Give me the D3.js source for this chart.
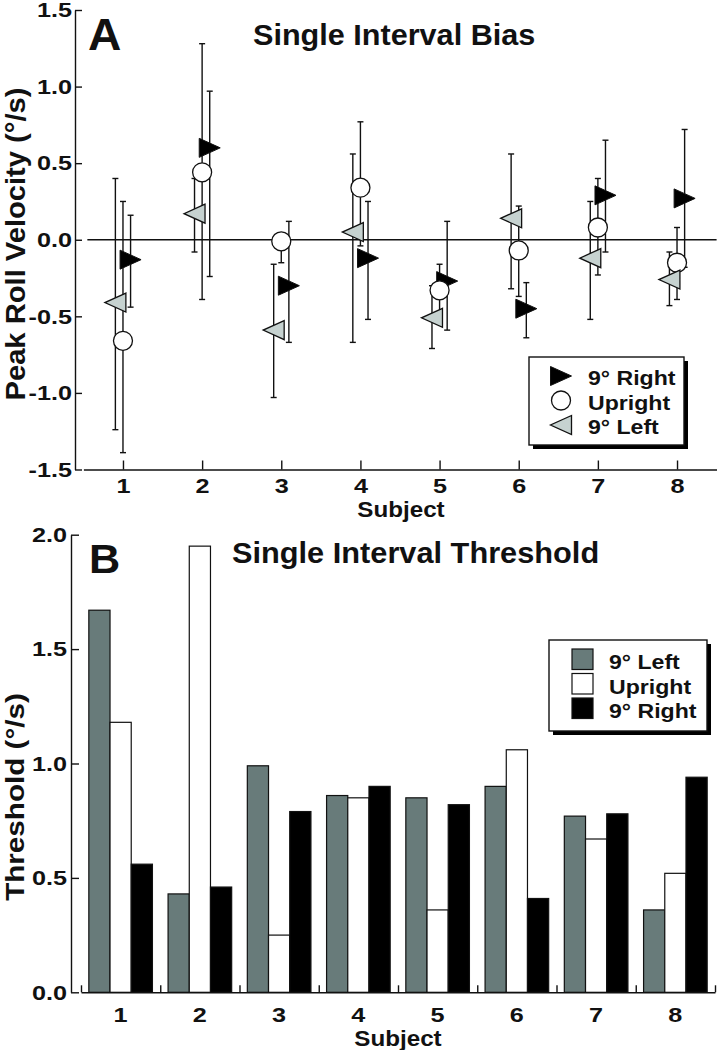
<!DOCTYPE html>
<html><head><meta charset="utf-8">
<script src="https://cdn.jsdelivr.net/npm/d3@7"></script>
<style>
body{margin:0;background:#fff;}
svg{display:block;font-family:"Liberation Sans",Arial,Helvetica,sans-serif;font-weight:bold;}
</style></head>
<body><svg id="c" width="717" height="1050"></svg>
<script>
// ---------- DATA ----------
const subjects = [1, 2, 3, 4, 5, 6, 7, 8];
const biasTicks = [-1.5, -1.0, -0.5, 0.0, 0.5, 1.0, 1.5];
const thrTicks = [0.0, 0.5, 1.0, 1.5, 2.0];

// Panel A: bias (deg/s) with error bar ends
const biasLeft     = [-0.41, 0.17, -0.59, 0.05, -0.51, 0.14, -0.12, -0.26];
const biasLeftLo   = [-1.24, -0.08, -1.03, -0.67, -0.71, -0.32, -0.52, -0.43];
const biasLeftHi   = [0.40, 0.40, -0.16, 0.56, -0.30, 0.56, 0.25, -0.08];
const biasUpright   = [-0.66, 0.44, -0.01, 0.34, -0.33, -0.07, 0.08, -0.15];
const biasUprightLo = [-1.39, -0.39, -0.15, -0.04, -0.51, -0.37, -0.23, -0.39];
const biasUprightHi = [0.25, 1.28, 0.04, 0.77, -0.16, 0.22, 0.40, 0.08];
const biasRight    = [-0.13, 0.60, -0.30, -0.12, -0.27, -0.45, 0.29, 0.27];
const biasRightLo  = [-0.44, -0.24, -0.67, -0.52, -0.59, -0.64, -0.08, -0.18];
const biasRightHi  = [0.16, 0.97, 0.12, 0.25, 0.12, -0.28, 0.65, 0.72];

// Panel B: thresholds (deg/s)
const thrLeft    = [1.67, 0.43, 0.99, 0.86, 0.85, 0.90, 0.77, 0.36];
const thrUpright = [1.18, 1.95, 0.25, 0.85, 0.36, 1.06, 0.67, 0.52];
const thrRight   = [0.56, 0.46, 0.79, 0.90, 0.82, 0.41, 0.78, 0.94];

const seriesNames = ["9° Left", "Upright", "9° Right"];

// ---------- STYLE ----------
const GRAY_BAR = "#687b7a";
const TRI_FILL = "#c6d2d0";
const INK = "#111";

const svg = d3.select("#c");

function label(g, x, y, s, size, sx, anchor, rot) {
  return g.append("text")
    .attr("transform", `translate(${x},${y})` + (rot ? ` rotate(${rot})` : "") + ` scale(${sx},1)`)
    .attr("font-size", size).attr("text-anchor", anchor || "start")
    .attr("fill", INK).text(s);
}
function styleAxis(g, size, sx) {
  g.select(".domain").attr("stroke", INK).attr("stroke-width", 1.4);
  g.selectAll(".tick line").attr("stroke", INK).attr("stroke-width", 1.4);
  g.selectAll(".tick text").attr("font-size", size).attr("fill", INK)
    .attr("font-family", "Liberation Sans, Arial, sans-serif").attr("font-weight", "bold")
    .each(function () {
      const t = d3.select(this);
      const x = +t.attr("x") || 0;
      t.attr("x", x / sx).attr("transform", `scale(${sx},1)`);
    });
}

// ================= PANEL A =================
const xA = d3.scaleLinear().domain([0.5, 8.5]).range([83.4, 716.6]);
const yA = d3.scaleLinear().domain([-1.5, 1.5]).range([469.5, 10]);
const off = 0.096; // horizontal offset of series (subject units)

const gA = svg.append("g");
gA.append("g").attr("transform", "translate(75,0)")
  .call(d3.axisLeft(yA).tickValues(biasTicks).tickSize(-7).tickSizeOuter(0).tickPadding(3)
    .tickFormat(d => d.toFixed(1)))
  .call(g => styleAxis(g, 21, 1.2));
gA.append("g").attr("transform", `translate(0,${yA(-1.5)})`)
  .call(d3.axisBottom(xA).tickValues(subjects).tickSize(-9).tickSizeOuter(0).tickPadding(9)
    .tickFormat(d3.format("d")))
  .call(g => styleAxis(g, 21, 1.2));

// zero line
gA.append("line").attr("x1", xA(0.55)).attr("x2", xA(8.5))
  .attr("y1", yA(0)).attr("y2", yA(0)).attr("stroke", INK).attr("stroke-width", 1.3);

const biasSeries = [
  {name: seriesNames[0], v: biasLeft, lo: biasLeftLo, hi: biasLeftHi, dx: -off, shape: "left"},
  {name: seriesNames[1], v: biasUpright, lo: biasUprightLo, hi: biasUprightHi, dx: 0, shape: "circle"},
  {name: seriesNames[2], v: biasRight, lo: biasRightLo, hi: biasRightHi, dx: off, shape: "right"}
];

// error bars
biasSeries.forEach(s => {
  const g = gA.append("g").attr("stroke", INK).attr("stroke-width", 1.4);
  subjects.forEach((sub, i) => {
    const x = xA(sub + s.dx);
    g.append("line").attr("x1", x).attr("x2", x).attr("y1", yA(s.lo[i])).attr("y2", yA(s.hi[i]));
    [s.lo[i], s.hi[i]].forEach(v => g.append("line")
      .attr("x1", x - 3).attr("x2", x + 3).attr("y1", yA(v)).attr("y2", yA(v)));
  });
});

function marker(g, shape, x, y) {
  if (shape === "circle") {
    g.append("circle").attr("cx", x).attr("cy", y).attr("r", 9.5)
      .attr("fill", "#fff").attr("stroke", INK).attr("stroke-width", 1.3);
  } else if (shape === "right") {
    g.append("path").attr("d", `M${x - 10.5},${y - 9.5}L${x + 10.5},${y}L${x - 10.5},${y + 9.5}Z`)
      .attr("fill", "#000").attr("stroke", INK).attr("stroke-width", 1);
  } else {
    g.append("path").attr("d", `M${x + 10.5},${y - 9.5}L${x - 10.5},${y}L${x + 10.5},${y + 9.5}Z`)
      .attr("fill", TRI_FILL).attr("stroke", INK).attr("stroke-width", 1.3);
  }
}
// markers: right, upright, left order
[biasSeries[2], biasSeries[1], biasSeries[0]].forEach(s => {
  const g = gA.append("g");
  subjects.forEach((sub, i) => marker(g, s.shape, xA(sub + s.dx), yA(s.v[i])));
});

label(gA, 88, 50, "A", 44, 1.05, "start");
label(gA, 253, 45, "Single Interval Bias", 30, 1.02, "start");
label(gA, 401, 517, "Subject", 22, 1.1, "middle");
label(gA, 25, 244, "Peak Roll Velocity (°/s)", 27, 1.08, "middle", -90);

// legend A
{
  const lg = gA.append("g");
  lg.append("rect").attr("x", 533).attr("y", 361).attr("width", 155).attr("height", 88).attr("fill", "#000");
  lg.append("rect").attr("x", 529).attr("y", 357).attr("width", 155).attr("height", 88)
    .attr("fill", "#fff").attr("stroke", INK).attr("stroke-width", 1.4);
  const items = [biasSeries[2], biasSeries[1], biasSeries[0]];
  items.forEach((s, k) => {
    const cy = 376 + k * 24.5;
    marker(lg, s.shape, 561, cy);
    label(lg, 588, cy + 9, s.name, 21, 1.1, "start");
  });
}

// ================= PANEL B =================
const xB = d3.scaleBand().domain(subjects).range([81, 715]).paddingInner(0).paddingOuter(0);
const xBin = d3.scaleBand().domain([0, 1, 2]).range([0, xB.bandwidth()]).paddingInner(0).paddingOuter(0.369);
const xBlin = d3.scaleLinear().domain([0.5, 8.5]).range([81, 715]);
const yB = d3.scaleLinear().domain([0, 2]).range([992.3, 534.7]);

const gB = svg.append("g");
const thrSeries = [
  {name: seriesNames[0], v: thrLeft, fill: GRAY_BAR},
  {name: seriesNames[1], v: thrUpright, fill: "#fff"},
  {name: seriesNames[2], v: thrRight, fill: "#000"}
];
thrSeries.forEach((s, k) => {
  gB.append("g").selectAll("rect").data(subjects).join("rect")
    .attr("x", d => xB(d) + xBin(k)).attr("width", xBin.bandwidth())
    .attr("y", (d, i) => yB(s.v[i])).attr("height", (d, i) => yB(0) - yB(s.v[i]))
    .attr("fill", s.fill).attr("stroke", INK).attr("stroke-width", 1.2);
});

gB.append("g").attr("transform", "translate(71,0)")
  .call(d3.axisLeft(yB).tickValues(thrTicks).tickSize(-8).tickSizeOuter(0).tickPadding(4)
    .tickFormat(d => d.toFixed(1)))
  .call(g => styleAxis(g, 21, 1.2));
gB.append("g").attr("transform", `translate(0,${yB(0)})`)
  .call(d3.axisBottom(xBlin).tickValues(d3.range(0.5, 9, 1)).tickSize(-7).tickSizeOuter(0).tickFormat(""))
  .call(g => styleAxis(g, 21, 1.2));
gB.append("g").attr("transform", `translate(0,${yB(0)})`)
  .call(d3.axisBottom(xB).tickSize(0).tickPadding(15))
  .call(g => { g.select(".domain").remove(); styleAxis(g, 21, 1.2); });

label(gB, 89, 573, "B", 40, 1.08, "start");
label(gB, 232, 563, "Single Interval Threshold", 29, 1.06, "start");
label(gB, 398, 1046, "Subject", 22, 1.1, "middle");
label(gB, 24, 797, "Threshold (°/s)", 26, 1.14, "middle", -90);

// legend B
{
  const lg = gB.append("g");
  lg.append("rect").attr("x", 553).attr("y", 644).attr("width", 158).attr("height", 91).attr("fill", "#000");
  lg.append("rect").attr("x", 549).attr("y", 640).attr("width", 158).attr("height", 91)
    .attr("fill", "#fff").attr("stroke", INK).attr("stroke-width", 1.4);
  thrSeries.forEach((s, k) => {
    const top = 649 + k * 24.5;
    lg.append("rect").attr("x", 572).attr("y", top).attr("width", 21).attr("height", 20.5)
      .attr("fill", s.fill).attr("stroke", INK).attr("stroke-width", 1.2);
    label(lg, 609, top + 20, s.name, 21, 1.1, "start");
  });
}
</script></body></html>
